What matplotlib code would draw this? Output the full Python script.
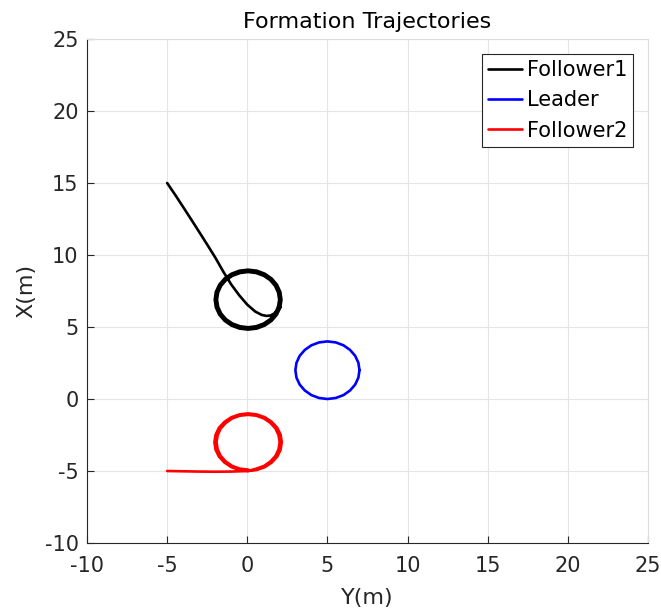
import matplotlib
matplotlib.use('Agg')
import matplotlib.pyplot as plt

# Follower1: approach path, then two laps around its formation point
f1_y = [-5.0, -4.5, -4.0, -3.5, -3.0, -2.5, -2.0, -1.5, -1.0, -0.5, 0.0, 0.5, 0.9, 1.2, 1.45, 1.7,
        2.06, 2.13, 2.06, 1.85, 1.52, 1.09, 0.59, 0.05, -0.49, -0.99, -1.42, -1.75, -1.96,
        -2.03, -1.96, -1.75, -1.42, -0.99, -0.49, 0.05, 0.59, 1.09, 1.52, 1.85, 2.06,
        1.92, 1.99, 1.92, 1.73, 1.42, 1.02, 0.55, 0.05, -0.45, -0.92, -1.32, -1.63, -1.82,
        -1.89, -1.82, -1.63, -1.32, -0.92, -0.45, 0.05, 0.55, 1.02, 1.42, 1.73, 1.92]
f1_x = [15.0, 14.18, 13.33, 12.47, 11.6, 10.72, 9.83, 8.85, 7.95, 7.2, 6.55, 6.07, 5.84, 5.77, 5.8, 5.95,
        6.36, 6.90, 7.44, 7.94, 8.37, 8.70, 8.91, 8.98, 8.91, 8.70, 8.37, 7.94, 7.44,
        6.90, 6.36, 5.86, 5.43, 5.10, 4.89, 4.82, 4.89, 5.10, 5.43, 5.86, 6.36,
        6.40, 6.90, 7.40, 7.86, 8.26, 8.56, 8.75, 8.82, 8.75, 8.56, 8.26, 7.86, 7.40,
        6.90, 6.40, 5.94, 5.54, 5.24, 5.05, 4.98, 5.05, 5.24, 5.54, 5.94, 6.40]

# Leader: circle
ld_y = [7.0, 6.93, 6.73, 6.41, 6.0, 5.52, 5.0, 4.48, 4.0, 3.59, 3.27, 3.07, 3.0,
        3.07, 3.27, 3.59, 4.0, 4.48, 5.0, 5.52, 6.0, 6.41, 6.73, 6.93, 7.0]
ld_x = [2.0, 2.52, 3.0, 3.41, 3.73, 3.93, 4.0, 3.93, 3.73, 3.41, 3.0, 2.52, 2.0,
        1.48, 1.0, 0.59, 0.27, 0.07, 0.0, 0.07, 0.27, 0.59, 1.0, 1.48, 2.0]

# Follower2: approach path, then two laps
f2_y = [-5.0, -4.0, -3.0, -2.0, -1.0, -0.5,
        0.05, 0.59, 1.10, 1.53, 1.87, 2.08, 2.15, 2.08, 1.87, 1.53, 1.10, 0.59, 0.05,
        -0.49, -1.00, -1.43, -1.77, -1.98, -2.05, -1.98, -1.77, -1.43, -1.00, -0.49, 0.05,
        0.56, 1.04, 1.44, 1.76, 1.95, 2.02, 1.95, 1.76, 1.44, 1.04, 0.56, 0.05,
        -0.46, -0.94, -1.34, -1.66, -1.85, -1.92, -1.85, -1.66, -1.34, -0.94, -0.46, 0.05]
f2_x = [-5.0, -5.02, -5.04, -5.05, -5.04, -5.02,
        -5.0, -4.93, -4.73, -4.41, -4.0, -3.52, -3.0, -2.48, -2.0, -1.59, -1.27, -1.07, -1.0,
        -1.07, -1.27, -1.59, -2.0, -2.48, -3.0, -3.52, -4.0, -4.41, -4.73, -4.93, -5.0,
        -4.84, -4.65, -4.34, -3.95, -3.49, -3.0, -2.51, -2.05, -1.66, -1.35, -1.16, -1.1,
        -1.16, -1.35, -1.66, -2.05, -2.51, -3.0, -3.49, -3.95, -4.34, -4.65, -4.84, -4.9]

ticks = [-10, -5, 0, 5, 10, 15, 20, 25]

plt.rcParams['font.family'] = 'DejaVu Sans'
plt.rcParams['axes.unicode_minus'] = False

fig = plt.figure(figsize=(6.61, 6.10), dpi=100)
ax = fig.add_axes([87/661, 1 - 543/610, (648 - 87)/661, (543 - 39)/610])

style = dict(lw=1.9, solid_capstyle='round', solid_joinstyle='round')
ax.plot(f1_y, f1_x, color='black', label='Follower1', **style)
ax.plot(ld_y, ld_x, color='blue', label='Leader', **style)
ax.plot(f2_y, f2_x, color='red', label='Follower2', **style)

ax.set_xlim(-10, 25)
ax.set_ylim(-10, 25)
ax.set_xticks(ticks)
ax.set_yticks(ticks)
ax.grid(True, color='#e5e5e5', lw=0.8)
ax.set_axisbelow(True)
ax.tick_params(direction='in', length=5, width=0.8, colors='#262626',
               labelsize=15)
ax.tick_params(axis='x', pad=9)
ax.tick_params(axis='y', pad=6)
for s in ['left', 'bottom']:
    ax.spines[s].set_color('#262626')
for s in ['top', 'right']:
    ax.spines[s].set_color('#dddddd')

ax.set_title('Formation Trajectories', fontsize=16, color='black', pad=8)
ax.set_xlabel('Y(m)', fontsize=16, color='#262626', labelpad=9)
ax.set_ylabel('X(m)', fontsize=16, color='#262626', labelpad=6)

leg = ax.legend(loc='upper right', fontsize=15, fancybox=False, framealpha=1,
                edgecolor='#262626', handlelength=1.6, handletextpad=0.25,
                borderpad=0.3, labelspacing=0.5, borderaxespad=0.7)
leg.get_frame().set_linewidth(0.8)

fig.savefig('out.png', dpi=100)
